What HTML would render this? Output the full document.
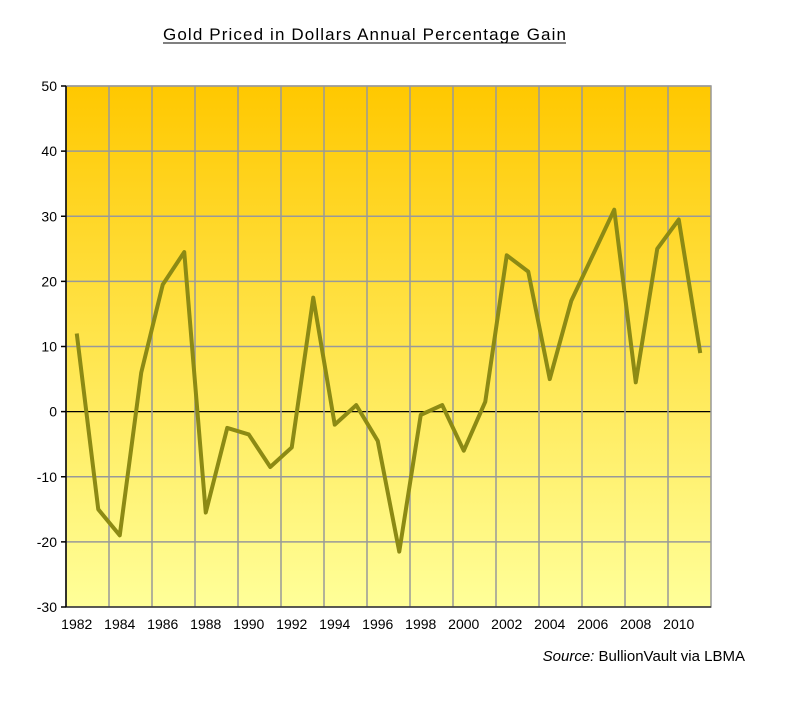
<!DOCTYPE html>
<html><head><meta charset="utf-8"><style>
body{margin:0;background:#fff;width:785px;height:707px;overflow:hidden}
svg{font-family:"Liberation Sans",sans-serif}
</style></head><body>
<svg id="chart" width="785" height="707" xmlns="http://www.w3.org/2000/svg">
<defs><linearGradient id="bg" x1="0" y1="0" x2="0" y2="1">
<stop offset="0" stop-color="#FFC800"/><stop offset="0.5" stop-color="#FFE54D"/><stop offset="1" stop-color="#FFFF99"/></linearGradient></defs>
<text x="163" y="40" textLength="403" lengthAdjust="spacing" font-size="17" fill="#000">Gold Priced in Dollars Annual Percentage Gain</text>
<line x1="163" y1="43" x2="566" y2="43" stroke="#000" stroke-width="1"/>
<rect x="66" y="86" width="645" height="521" fill="url(#bg)"/>
<g id="grid"></g><g id="axes"></g>
<text x="745" y="661" text-anchor="end" font-size="15"><tspan font-style="italic">Source:</tspan> BullionVault via LBMA</text>
</svg>
<script>
const years=[1982,1983,1984,1985,1986,1987,1988,1989,1990,1991,1992,1993,1994,1995,1996,1997,1998,1999,2000,2001,2002,2003,2004,2005,2006,2007,2008,2009,2010,2011];
const gains=[12,-15,-19,6,19.5,24.5,-15.5,-2.5,-3.5,-8.5,-5.5,17.5,-2,1,-4.5,-21.5,-0.5,1,-6,1.5,24,21.5,5,17,24,31,4.5,25,29.5,9];
const yTicks=[50,40,30,20,10,0,-10,-20,-30];
const L=66,R=711,T=86,B=607,yMin=-30,yMax=50;
const bw=(R-L)/years.length;
const xs=i=>L+bw*(i+0.5);
const ys=v=>T+(yMax-v)/(yMax-yMin)*(B-T);
const NS="http://www.w3.org/2000/svg",svg=document.getElementById('chart');
const grid=document.getElementById('grid'),axes=document.getElementById('axes');
function mk(tag,attrs,parent){const e=document.createElementNS(NS,tag);for(const k in attrs)e.setAttribute(k,attrs[k]);parent.appendChild(e);return e;}
yTicks.forEach(v=>{
 const g=mk('line',{x1:L,x2:R,y1:ys(v),y2:ys(v),stroke:v===0?'#000':'#999','stroke-width':v===0?1.2:1.5},grid);
 
 
 const t=mk('line',{x1:L-5,x2:L,y1:ys(v),y2:ys(v),stroke:'#000','stroke-width':1.5},axes);
 
 
 const tx=mk('text',{x:L-9,y:ys(v)+5,'text-anchor':'end','font-size':14,fill:'#000'},axes);tx.textContent=v;
 
 
});
years.forEach((y,i)=>{
 if(i%2===0){
  if(i>0){const g=mk('line',{x1:L+bw*i,x2:L+bw*i,y1:T,y2:B,stroke:'#999','stroke-width':1.5},grid);
  
  }
  const tx=mk('text',{x:xs(i),y:B+22,'text-anchor':'middle','font-size':14,fill:'#000'},axes);tx.textContent=y;
  
  
 }
});
const border=mk('rect',{x:L,y:T,width:R-L,height:B-T,fill:'none',stroke:'#999','stroke-width':1.5},grid);


const ax=mk('line',{x1:L,x2:L,y1:T,y2:B,stroke:'#000','stroke-width':1.5},axes);


const bx=mk('line',{x1:L,x2:R,y1:B,y2:B,stroke:'#000','stroke-width':1},axes);


const line=mk('polyline',{points:gains.map((v,i)=>xs(i)+','+ys(v)).join(' '),fill:'none',stroke:'#8C8A14','stroke-width':4,'stroke-linejoin':'round'},svg);


</script>
</body></html>
